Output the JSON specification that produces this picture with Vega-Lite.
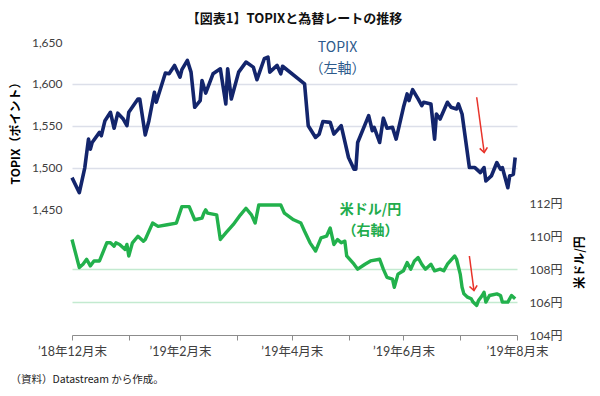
{
  "$schema": "https://vega.github.io/schema/vega-lite/v6.json",
  "width": 445,
  "height": 293,
  "autosize": {"type": "none"},
  "padding": {"left": 72, "top": 42, "right": 83, "bottom": 61},
  "background": "white",
  "config": {"view": {"stroke": null}, "font": "Noto Sans CJK JP"},
  "title": {"text": "【図表1】TOPIXと為替レートの推移", "fontSize": 13, "fontWeight": "bold", "font": "Noto Sans CJK JP", "color": "#111111", "offset": 10},
  "datasets": {
    "topix": [
      {"date": "2018-12-31", "value": 1488},
      {"date": "2019-01-04", "value": 1470},
      {"date": "2019-01-07", "value": 1500},
      {"date": "2019-01-09", "value": 1534},
      {"date": "2019-01-10", "value": 1522},
      {"date": "2019-01-11", "value": 1530},
      {"date": "2019-01-15", "value": 1542},
      {"date": "2019-01-16", "value": 1538},
      {"date": "2019-01-18", "value": 1556},
      {"date": "2019-01-21", "value": 1566},
      {"date": "2019-01-23", "value": 1547},
      {"date": "2019-01-25", "value": 1565},
      {"date": "2019-01-28", "value": 1558},
      {"date": "2019-01-30", "value": 1550},
      {"date": "2019-01-31", "value": 1566},
      {"date": "2019-02-05", "value": 1582},
      {"date": "2019-02-06", "value": 1582},
      {"date": "2019-02-09", "value": 1539},
      {"date": "2019-02-11", "value": 1556},
      {"date": "2019-02-14", "value": 1590},
      {"date": "2019-02-15", "value": 1578},
      {"date": "2019-02-20", "value": 1613},
      {"date": "2019-02-22", "value": 1612},
      {"date": "2019-02-25", "value": 1622},
      {"date": "2019-02-28", "value": 1608},
      {"date": "2019-03-01", "value": 1617},
      {"date": "2019-03-04", "value": 1628},
      {"date": "2019-03-06", "value": 1614},
      {"date": "2019-03-08", "value": 1572},
      {"date": "2019-03-11", "value": 1580},
      {"date": "2019-03-12", "value": 1604},
      {"date": "2019-03-14", "value": 1589},
      {"date": "2019-03-18", "value": 1612},
      {"date": "2019-03-22", "value": 1618},
      {"date": "2019-03-25", "value": 1576},
      {"date": "2019-03-26", "value": 1618},
      {"date": "2019-03-28", "value": 1582},
      {"date": "2019-04-01", "value": 1614},
      {"date": "2019-04-05", "value": 1626},
      {"date": "2019-04-09", "value": 1620},
      {"date": "2019-04-11", "value": 1605},
      {"date": "2019-04-15", "value": 1630},
      {"date": "2019-04-17", "value": 1632},
      {"date": "2019-04-18", "value": 1614},
      {"date": "2019-04-22", "value": 1622},
      {"date": "2019-04-24", "value": 1612},
      {"date": "2019-04-25", "value": 1621},
      {"date": "2019-05-07", "value": 1600},
      {"date": "2019-05-09", "value": 1550},
      {"date": "2019-05-13", "value": 1536},
      {"date": "2019-05-15", "value": 1540},
      {"date": "2019-05-17", "value": 1555},
      {"date": "2019-05-21", "value": 1554},
      {"date": "2019-05-23", "value": 1540},
      {"date": "2019-05-27", "value": 1550},
      {"date": "2019-05-31", "value": 1512},
      {"date": "2019-06-03", "value": 1498},
      {"date": "2019-06-04", "value": 1498},
      {"date": "2019-06-05", "value": 1530},
      {"date": "2019-06-11", "value": 1562},
      {"date": "2019-06-13", "value": 1544},
      {"date": "2019-06-14", "value": 1548},
      {"date": "2019-06-17", "value": 1530},
      {"date": "2019-06-19", "value": 1559},
      {"date": "2019-06-21", "value": 1547},
      {"date": "2019-06-24", "value": 1548},
      {"date": "2019-06-26", "value": 1534},
      {"date": "2019-06-30", "value": 1572},
      {"date": "2019-07-02", "value": 1588},
      {"date": "2019-07-03", "value": 1580},
      {"date": "2019-07-05", "value": 1593},
      {"date": "2019-07-08", "value": 1582},
      {"date": "2019-07-10", "value": 1574},
      {"date": "2019-07-11", "value": 1578},
      {"date": "2019-07-15", "value": 1576},
      {"date": "2019-07-17", "value": 1534},
      {"date": "2019-07-18", "value": 1564},
      {"date": "2019-07-20", "value": 1558},
      {"date": "2019-07-24", "value": 1578},
      {"date": "2019-07-26", "value": 1572},
      {"date": "2019-07-29", "value": 1570},
      {"date": "2019-07-30", "value": 1576},
      {"date": "2019-08-01", "value": 1564},
      {"date": "2019-08-03", "value": 1532},
      {"date": "2019-08-05", "value": 1500},
      {"date": "2019-08-08", "value": 1500},
      {"date": "2019-08-11", "value": 1494},
      {"date": "2019-08-13", "value": 1500},
      {"date": "2019-08-14", "value": 1484},
      {"date": "2019-08-17", "value": 1490},
      {"date": "2019-08-20", "value": 1506},
      {"date": "2019-08-22", "value": 1498},
      {"date": "2019-08-23", "value": 1500},
      {"date": "2019-08-26", "value": 1476},
      {"date": "2019-08-27", "value": 1490},
      {"date": "2019-08-29", "value": 1492},
      {"date": "2019-08-30", "value": 1512}
    ],
    "usd": [
      {"date": "2018-12-31", "value": 109.8},
      {"date": "2019-01-04", "value": 108.1},
      {"date": "2019-01-06", "value": 108.3},
      {"date": "2019-01-08", "value": 108.6},
      {"date": "2019-01-10", "value": 108.2},
      {"date": "2019-01-12", "value": 108.5},
      {"date": "2019-01-15", "value": 108.5},
      {"date": "2019-01-19", "value": 109.6},
      {"date": "2019-01-21", "value": 109.6},
      {"date": "2019-01-23", "value": 109.4},
      {"date": "2019-01-24", "value": 109.6},
      {"date": "2019-01-26", "value": 109.5},
      {"date": "2019-01-29", "value": 109.2},
      {"date": "2019-01-30", "value": 109.5},
      {"date": "2019-01-31", "value": 108.8},
      {"date": "2019-02-02", "value": 109.6},
      {"date": "2019-02-05", "value": 110.0},
      {"date": "2019-02-08", "value": 109.7},
      {"date": "2019-02-09", "value": 109.8},
      {"date": "2019-02-13", "value": 110.8},
      {"date": "2019-02-16", "value": 110.6},
      {"date": "2019-02-21", "value": 110.7},
      {"date": "2019-02-26", "value": 110.8},
      {"date": "2019-03-01", "value": 111.8},
      {"date": "2019-03-05", "value": 111.8},
      {"date": "2019-03-08", "value": 111.0},
      {"date": "2019-03-12", "value": 111.1},
      {"date": "2019-03-13", "value": 111.4},
      {"date": "2019-03-14", "value": 111.6},
      {"date": "2019-03-15", "value": 111.4},
      {"date": "2019-03-20", "value": 111.3},
      {"date": "2019-03-22", "value": 109.8},
      {"date": "2019-03-25", "value": 110.2},
      {"date": "2019-03-29", "value": 110.7},
      {"date": "2019-04-02", "value": 111.3},
      {"date": "2019-04-05", "value": 111.7},
      {"date": "2019-04-08", "value": 111.3},
      {"date": "2019-04-10", "value": 110.8},
      {"date": "2019-04-12", "value": 111.9},
      {"date": "2019-04-16", "value": 111.9},
      {"date": "2019-04-24", "value": 111.9},
      {"date": "2019-04-26", "value": 111.4},
      {"date": "2019-05-01", "value": 111.0},
      {"date": "2019-05-05", "value": 110.8},
      {"date": "2019-05-07", "value": 110.3},
      {"date": "2019-05-10", "value": 109.6},
      {"date": "2019-05-13", "value": 109.1},
      {"date": "2019-05-16", "value": 109.9},
      {"date": "2019-05-19", "value": 110.0},
      {"date": "2019-05-21", "value": 110.5},
      {"date": "2019-05-23", "value": 109.5},
      {"date": "2019-05-25", "value": 109.8},
      {"date": "2019-05-27", "value": 109.6},
      {"date": "2019-05-29", "value": 109.7},
      {"date": "2019-05-30", "value": 108.8},
      {"date": "2019-06-03", "value": 108.3},
      {"date": "2019-06-05", "value": 108.0},
      {"date": "2019-06-09", "value": 108.3},
      {"date": "2019-06-12", "value": 108.5},
      {"date": "2019-06-17", "value": 108.6},
      {"date": "2019-06-19", "value": 108.0},
      {"date": "2019-06-21", "value": 107.5},
      {"date": "2019-06-24", "value": 107.4},
      {"date": "2019-06-25", "value": 106.9},
      {"date": "2019-06-27", "value": 107.7},
      {"date": "2019-06-30", "value": 107.9},
      {"date": "2019-07-02", "value": 108.4},
      {"date": "2019-07-04", "value": 108.0},
      {"date": "2019-07-06", "value": 108.5},
      {"date": "2019-07-08", "value": 108.7},
      {"date": "2019-07-10", "value": 108.3},
      {"date": "2019-07-12", "value": 108.0},
      {"date": "2019-07-15", "value": 108.3},
      {"date": "2019-07-17", "value": 107.9},
      {"date": "2019-07-20", "value": 108.0},
      {"date": "2019-07-22", "value": 107.9},
      {"date": "2019-07-24", "value": 108.3},
      {"date": "2019-07-28", "value": 108.8},
      {"date": "2019-07-29", "value": 108.6},
      {"date": "2019-07-31", "value": 107.7},
      {"date": "2019-08-01", "value": 106.9},
      {"date": "2019-08-02", "value": 106.5},
      {"date": "2019-08-04", "value": 106.3},
      {"date": "2019-08-06", "value": 106.2},
      {"date": "2019-08-07", "value": 106.0},
      {"date": "2019-08-09", "value": 105.8},
      {"date": "2019-08-10", "value": 106.1},
      {"date": "2019-08-12", "value": 106.4},
      {"date": "2019-08-13", "value": 106.6},
      {"date": "2019-08-14", "value": 106.0},
      {"date": "2019-08-16", "value": 106.4},
      {"date": "2019-08-20", "value": 106.5},
      {"date": "2019-08-22", "value": 106.4},
      {"date": "2019-08-23", "value": 106.0},
      {"date": "2019-08-26", "value": 106.0},
      {"date": "2019-08-28", "value": 106.4},
      {"date": "2019-08-30", "value": 106.2}
    ],
    "topixNotes": [
      {"date": "2019-05-25", "value": 1642.8, "text": "TOPIX"},
      {"date": "2019-05-25", "value": 1617.6, "text": "（左軸）"}
    ],
    "usdNotes": [
      {"date": "2019-06-12", "value": 111.62, "text": "米ドル/円"},
      {"date": "2019-06-12", "value": 110.34, "text": "（右軸）"}
    ],
    "topixArrow": [
      {"date": "2019-08-09T00:00:00Z", "date2": "2019-08-13T02:00:00Z", "value": 1584, "value2": 1518}
    ],
    "usdArrow": [
      {"date": "2019-08-05T00:00:00Z", "date2": "2019-08-07T12:00:00Z", "value": 108.8, "value2": 106.7}
    ]
  },
  "layer": [
    {
      "data": {"name": "topix"},
      "mark": {"type": "line", "color": "#13256c", "strokeWidth": 3.6, "strokeJoin": "round"},
      "encoding": {
        "x": {
          "field": "date", "type": "temporal",
          "scale": {"type": "utc", "nice": false, "domain": ["2018-12-31T00:00:00Z", "2019-08-31T00:00:00Z"]},
          "title": "（資料）Datastream から作成。",
          "axis": {
            "values": ["2018-12-31T00:00:00Z", "2019-01-31T00:00:00Z", "2019-02-28T00:00:00Z", "2019-03-31T00:00:00Z", "2019-04-30T00:00:00Z", "2019-05-31T00:00:00Z", "2019-06-30T00:00:00Z", "2019-07-31T00:00:00Z", "2019-08-31T00:00:00Z"],
            "labelExpr": "utcmonth(datum.value) % 2 == 1 ? '’' + utcFormat(datum.value, '%y') + '年' + (utcmonth(datum.value) + 1) + '月末' : ''",
            "labelFont": "Lato, Noto Sans CJK JP",
            "labelFontSize": 12.5,
            "labelColor": "#404040",
            "labelFlush": false,
            "labelOverlap": false,
            "labelPadding": 5,
            "grid": false,
            "domainColor": "#8c8c8c",
            "tickColor": "#8c8c8c",
            "tickSize": 5,
            "titleX": -62,
            "titleY": 44,
            "titleAlign": "left",
            "titleBaseline": "middle",
            "titleFont": "Noto Sans CJK JP",
            "titleFontSize": 10.5,
            "titleFontWeight": "normal",
            "titleColor": "#222222"
          }
        },
        "y": {
          "field": "value", "type": "quantitative",
          "scale": {"domain": [1300, 1650], "nice": false, "zero": false},
          "title": "TOPIX（ポイント）",
          "axis": {
            "orient": "left",
            "values": [1450, 1500, 1550, 1600, 1650],
            "format": ",.0f",
            "domain": false,
            "ticks": false,
            "labelPadding": 10,
            "labelFont": "Lato",
            "labelFontSize": 12,
            "labelColor": "#404040",
            "grid": true,
            "gridWidth": 1.5,
            "gridColor": {"condition": {"test": "datum.value == 1450 || datum.value == 1650", "value": "transparent"}, "value": "#dcdfe9"},
            "titleAngle": -90,
            "titleX": -57,
            "titleY": 88,
            "titleAlign": "center",
            "titleBaseline": "middle",
            "titleFont": "Noto Sans CJK JP",
            "titleFontSize": 12,
            "titleFontWeight": "bold",
            "titleColor": "#000000"
          }
        }
      }
    },
    {
      "data": {"name": "usd"},
      "mark": {"type": "line", "color": "#22b14c", "strokeWidth": 3.4, "strokeJoin": "round"},
      "encoding": {
        "x": {"field": "date", "type": "temporal", "title": "（資料）Datastream から作成。"},
        "y": {
          "field": "value", "type": "quantitative",
          "scale": {"domain": [104, 121.8], "nice": false, "zero": false},
          "title": "米ドル/円",
          "axis": {
            "orient": "right",
            "values": [104, 106, 108, 110, 112],
            "labelExpr": "datum.value + '円'",
            "domain": false,
            "ticks": false,
            "labelPadding": 12,
            "labelFont": "Lato, Noto Sans CJK JP",
            "labelFontSize": 12,
            "labelColor": "#404040",
            "grid": true,
            "gridWidth": 1.5,
            "gridColor": {"condition": {"test": "datum.value == 106 || datum.value == 108", "value": "#c3ead0"}, "value": "transparent"},
            "titleAngle": -90,
            "titleX": 62,
            "titleY": 220,
            "titleAlign": "center",
            "titleBaseline": "middle",
            "titleFont": "Noto Sans CJK JP",
            "titleFontSize": 12,
            "titleFontWeight": "bold",
            "titleColor": "#000000"
          }
        }
      }
    },
    {
      "data": {"name": "topixNotes"},
      "mark": {"type": "text", "font": "Noto Sans CJK JP", "fontSize": 14, "color": "#2d5a8c", "align": "center", "baseline": "middle"},
      "encoding": {
        "x": {"field": "date", "type": "temporal", "title": "（資料）Datastream から作成。"},
        "y": {"field": "value", "type": "quantitative", "axis": null, "scale": {"domain": [1300, 1650], "nice": false, "zero": false}},
        "text": {"field": "text"}
      }
    },
    {
      "data": {"name": "usdNotes"},
      "mark": {"type": "text", "font": "Noto Sans CJK JP", "fontSize": 14, "fontWeight": "bold", "color": "#22ac4c", "align": "center", "baseline": "middle"},
      "encoding": {
        "x": {"field": "date", "type": "temporal", "title": "（資料）Datastream から作成。"},
        "y": {"field": "value", "type": "quantitative", "axis": null, "scale": {"domain": [104, 121.8], "nice": false, "zero": false}},
        "text": {"field": "text"}
      }
    },
    {
      "data": {"name": "topixArrow"},
      "mark": {"type": "rule", "color": "#e8332a", "strokeWidth": 1.5},
      "encoding": {
        "x": {"field": "date", "type": "temporal", "title": "（資料）Datastream から作成。"},
        "x2": {"field": "date2"},
        "y": {"field": "value", "type": "quantitative", "axis": null, "scale": {"domain": [1300, 1650], "nice": false, "zero": false}},
        "y2": {"field": "value2"}
      }
    },
    {
      "data": {"name": "topixArrow"},
      "mark": {"type": "point", "shape": "M-1,-1.2L0,0L1,-1.2", "filled": false, "stroke": "#e8332a", "strokeWidth": 1.6, "size": 60, "angle": -8, "opacity": 1},
      "encoding": {
        "x": {"field": "date2", "type": "temporal", "title": "（資料）Datastream から作成。"},
        "y": {"field": "value2", "type": "quantitative", "axis": null, "scale": {"domain": [1300, 1650], "nice": false, "zero": false}}
      }
    },
    {
      "data": {"name": "usdArrow"},
      "mark": {"type": "rule", "color": "#e8332a", "strokeWidth": 1.5},
      "encoding": {
        "x": {"field": "date", "type": "temporal", "title": "（資料）Datastream から作成。"},
        "x2": {"field": "date2"},
        "y": {"field": "value", "type": "quantitative", "axis": null, "scale": {"domain": [104, 121.8], "nice": false, "zero": false}},
        "y2": {"field": "value2"}
      }
    },
    {
      "data": {"name": "usdArrow"},
      "mark": {"type": "point", "shape": "M-1,-1.2L0,0L1,-1.2", "filled": false, "stroke": "#e8332a", "strokeWidth": 1.6, "size": 60, "angle": -8, "opacity": 1},
      "encoding": {
        "x": {"field": "date2", "type": "temporal", "title": "（資料）Datastream から作成。"},
        "y": {"field": "value2", "type": "quantitative", "axis": null, "scale": {"domain": [104, 121.8], "nice": false, "zero": false}}
      }
    }
  ],
  "resolve": {"scale": {"y": "independent"}, "axis": {"y": "independent"}}
}
